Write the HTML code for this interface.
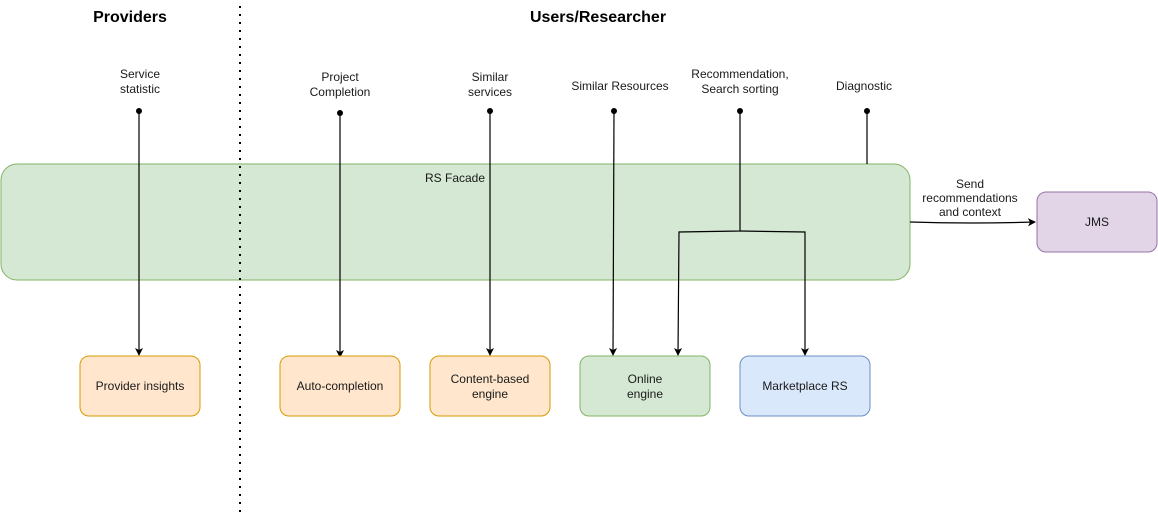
<!DOCTYPE html>
<html><head><meta charset="utf-8"><style>
html,body{margin:0;padding:0;background:#fff;}
svg{display:block;}
text{font-family:"Liberation Sans",Arial,sans-serif;font-size:12px;fill:#1a1a1a;}
.h{font-size:16px;font-weight:bold;fill:#000;}
</style></head><body>
<svg width="1158" height="514" viewBox="0 0 1158 514" xmlns="http://www.w3.org/2000/svg">
<defs>
<marker id="a" markerWidth="10" markerHeight="10" refX="7" refY="4" orient="auto" markerUnits="userSpaceOnUse">
<path d="M0,0 L8,4 L0,8 L2,4 Z" fill="#000"/>
</marker>
</defs>
<rect x="1" y="164" width="909" height="116" rx="16" fill="#d5e8d4" stroke="#82b366" stroke-width="1"/>
<text x="455" y="182" text-anchor="middle">RS Facade</text>
<line x1="240" y1="6" x2="240" y2="514" stroke="#000" stroke-width="2" stroke-dasharray="2 6" />
<text class="h" x="130" y="22" text-anchor="middle">Providers</text>
<text class="h" x="598" y="22" text-anchor="middle">Users/Researcher</text>

<text x="140" y="78" text-anchor="middle">Service</text>
<text x="140" y="93" text-anchor="middle">statistic</text>
<text x="340" y="81" text-anchor="middle">Project</text>
<text x="340" y="96" text-anchor="middle">Completion</text>
<text x="490" y="81" text-anchor="middle">Similar</text>
<text x="490" y="96" text-anchor="middle">services</text>
<text x="620" y="90" text-anchor="middle">Similar Resources</text>
<text x="740" y="78" text-anchor="middle">Recommendation,</text>
<text x="740" y="93" text-anchor="middle">Search sorting</text>
<text x="864" y="90" text-anchor="middle">Diagnostic</text>

<g stroke="#000" stroke-width="1.2" fill="none">
<line x1="139" y1="111" x2="139" y2="355" marker-end="url(#a)"/>
<line x1="340" y1="113" x2="340" y2="357" marker-end="url(#a)"/>
<line x1="490" y1="111" x2="490" y2="355" marker-end="url(#a)"/>
<line x1="614" y1="111" x2="613" y2="355" marker-end="url(#a)"/>
<polyline points="740,111 740,231 679,232 678,355" marker-end="url(#a)"/>
<polyline points="740,231 805,232 805,355" marker-end="url(#a)"/>
<line x1="867" y1="111" x2="867" y2="164"/>
<path d="M910,222 Q970,224 1035,222" marker-end="url(#a)"/>
</g>
<g fill="#000">
<circle cx="139" cy="111" r="3"/><circle cx="340" cy="113" r="3"/><circle cx="490" cy="111" r="3"/>
<circle cx="614" cy="111" r="3"/><circle cx="740" cy="111" r="3"/><circle cx="867" cy="111" r="3"/>
</g>
<text x="970" y="188" text-anchor="middle">Send</text>
<text x="970" y="202" text-anchor="middle">recommendations</text>
<text x="970" y="216" text-anchor="middle">and context</text>

<rect x="1037" y="192" width="120" height="60" rx="9" fill="#e1d5e7" stroke="#9673a6"/>
<text x="1097" y="226" text-anchor="middle">JMS</text>

<rect x="80" y="356" width="120" height="60" rx="9" fill="#ffe6cc" stroke="#d79b00"/>
<text x="140" y="390" text-anchor="middle">Provider insights</text>
<rect x="280" y="356" width="120" height="60" rx="9" fill="#ffe6cc" stroke="#d79b00"/>
<text x="340" y="390" text-anchor="middle">Auto-completion</text>
<rect x="430" y="356" width="120" height="60" rx="9" fill="#ffe6cc" stroke="#d79b00"/>
<text x="490" y="383" text-anchor="middle">Content-based</text>
<text x="490" y="398" text-anchor="middle">engine</text>
<rect x="580" y="356" width="130" height="60" rx="9" fill="#d5e8d4" stroke="#82b366"/>
<text x="645" y="383" text-anchor="middle">Online</text>
<text x="645" y="398" text-anchor="middle">engine</text>
<rect x="740" y="356" width="130" height="60" rx="9" fill="#dae8fc" stroke="#6c8ebf"/>
<text x="805" y="390" text-anchor="middle">Marketplace RS</text>
</svg>
</body></html>
